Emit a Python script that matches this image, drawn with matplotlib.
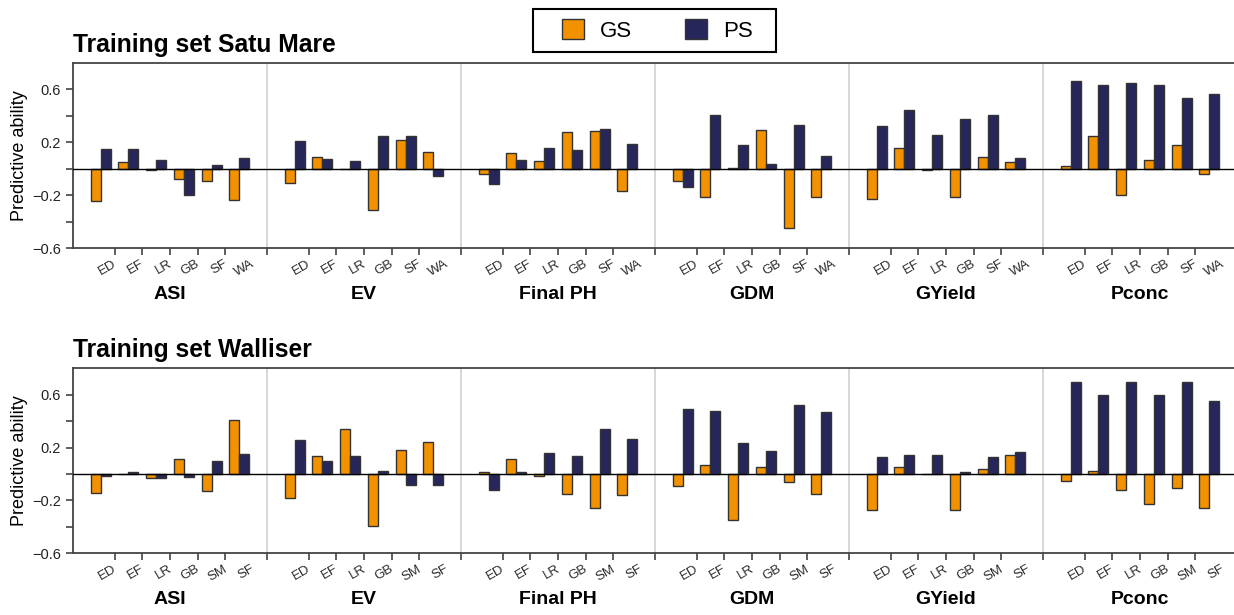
import numpy as np
import matplotlib
matplotlib.use("Agg")
import matplotlib.pyplot as plt
from matplotlib.patches import Patch, Rectangle

plt.rcParams['font.family'] = ['Liberation Sans', 'DejaVu Sans']

# traits (facets) and the training-set methods
traits = ["ASI", "EV", "Final PH", "GDM", "GYield", "Pconc"]
methods_sm = ["ED", "EF", "LR", "GB", "SF", "WA"]
methods_wa = ["ED", "EF", "LR", "GB", "SM", "SF"]

# Training set Satu Mare, one row per trait
gs_sm = [
    [-0.24, 0.05, -0.01, -0.08, -0.09, -0.235],
    [-0.11, 0.09, 0.00, -0.31, 0.22, 0.13],
    [-0.04, 0.12, 0.06, 0.28, 0.29, -0.17],
    [-0.09, -0.215, 0.005, 0.295, -0.45, -0.215],
    [-0.225, 0.16, -0.01, -0.215, 0.09, 0.055],
    [0.02, 0.25, -0.20, 0.07, 0.18, -0.035],
]
ps_sm = [
    [0.15, 0.15, 0.07, -0.20, 0.03, 0.08],
    [0.21, 0.075, 0.06, 0.25, 0.25, -0.05],
    [-0.115, 0.07, 0.155, 0.145, 0.30, 0.19],
    [-0.14, 0.41, 0.18, 0.035, 0.335, 0.10],
    [0.325, 0.445, 0.255, 0.375, 0.41, 0.08],
    [0.665, 0.635, 0.65, 0.635, 0.535, 0.565],
]

# Training set Walliser
gs_wa = [
    [-0.14, 0.003, -0.03, 0.11, -0.13, 0.405],
    [-0.185, 0.135, 0.34, -0.395, 0.18, 0.24],
    [0.018, 0.11, -0.013, -0.15, -0.255, -0.16],
    [-0.09, 0.065, -0.35, 0.055, -0.06, -0.15],
    [-0.27, 0.055, -0.003, -0.27, 0.035, 0.145],
    [-0.05, 0.025, -0.12, -0.23, -0.105, -0.26],
]
ps_wa = [
    [-0.013, 0.013, -0.033, -0.025, 0.10, 0.15],
    [0.26, 0.10, 0.14, 0.02, -0.08, -0.08],
    [-0.12, 0.018, 0.157, 0.14, 0.338, 0.265],
    [0.49, 0.48, 0.237, 0.177, 0.522, 0.472],
    [0.13, 0.145, 0.145, 0.013, 0.13, 0.167],
    [0.70, 0.60, 0.70, 0.598, 0.70, 0.553],
]

GS_COL = "#f39200"
PS_COL = "#27265a"
EDGE = "#333333"

fig = plt.figure(figsize=(12.34, 6.15), dpi=100)


def draw_row(ax, gs, ps, methods):
    n = len(methods)
    span = n + 1
    w = 0.36
    for p in range(len(traits)):
        x = p * span + np.arange(1, n + 1)
        ax.bar(x - w / 2, gs[p], width=w, color=GS_COL, edgecolor=EDGE, linewidth=1, zorder=3)
        ax.bar(x + w / 2, ps[p], width=w, color=PS_COL, edgecolor=EDGE, linewidth=1, zorder=3)
        for k, m in enumerate(methods):
            ax.annotate(m, xy=(x[k] + 0.42, 0), xycoords=('data', 'axes fraction'),
                        xytext=(0, -7), textcoords='offset points', rotation=30,
                        ha='right', va='top', rotation_mode='anchor',
                        fontsize=9.5, color='#2a2a2a')
        ax.annotate(traits[p], xy=(p * span + span / 2, 0), xycoords=('data', 'axes fraction'),
                    xytext=(0, -33), textcoords='offset points', ha='center', va='center',
                    fontsize=14, fontweight='bold')
        if p > 0:
            ax.axvline(p * span, color='#d4d4d4', lw=1.3, zorder=1)
    ax.axhline(0, color='black', lw=1, zorder=4)

    ax.set_xlim(0, span * len(traits))
    ax.set_ylim(-0.6, 0.8)
    xt = []
    for p in range(len(traits)):
        if p > 0:
            xt.append(p * span)
        xt += list(p * span + np.arange(1, n) + 0.5)
    ax.set_xticks(xt)
    ax.set_xticklabels([])
    yt = np.round(np.arange(-0.6, 0.61, 0.2), 1)
    ax.set_yticks(yt)
    ax.set_yticklabels([(("%.1f" % v).replace("-", "\u2212") if i % 2 == 0 else "")
                        for i, v in enumerate(yt)], fontsize=10.5)
    ax.tick_params(direction='out', length=5, width=1.2, color='#444444', labelcolor='#222222')
    ax.set_ylabel("Predictive ability", fontsize=13, labelpad=3)
    for s in ['left', 'bottom', 'top']:
        ax.spines[s].set_color('#444444')
        ax.spines[s].set_linewidth(1.3)
    ax.spines['right'].set_visible(False)


ax1 = fig.add_axes([73 / 1234, 1 - 248.3 / 615, 1164 / 1234, 185.3 / 615])
draw_row(ax1, gs_sm, ps_sm, methods_sm)
ax2 = fig.add_axes([73 / 1234, 1 - 553.3 / 615, 1164 / 1234, 185 / 615])
draw_row(ax2, gs_wa, ps_wa, methods_wa)

fig.text(73 / 1234, 1 - 45 / 615, "Training set Satu Mare", fontsize=17.7, fontweight='bold', va='center')
fig.text(73 / 1234, 1 - 350 / 615, "Training set Walliser", fontsize=17.7, fontweight='bold', va='center')

# legend with a wider box drawn around it
handles = [Patch(facecolor=GS_COL, edgecolor=EDGE, label="GS"),
           Patch(facecolor=PS_COL, edgecolor=EDGE, label="PS")]
fig.legend(handles=handles, loc='center', bbox_to_anchor=(657 / 1234, 1 - 30.5 / 615),
           ncol=2, fontsize=16, frameon=False, handlelength=1.0,
           handleheight=1.0, handletextpad=0.7, columnspacing=2.4, borderpad=0.45)
fig.patches.append(Rectangle((533 / 1234, 1 - 52 / 615), 243 / 1234, 43 / 615,
                             transform=fig.transFigure, fill=False, edgecolor='black', lw=1.5))

fig.savefig("out.png", dpi=100)
